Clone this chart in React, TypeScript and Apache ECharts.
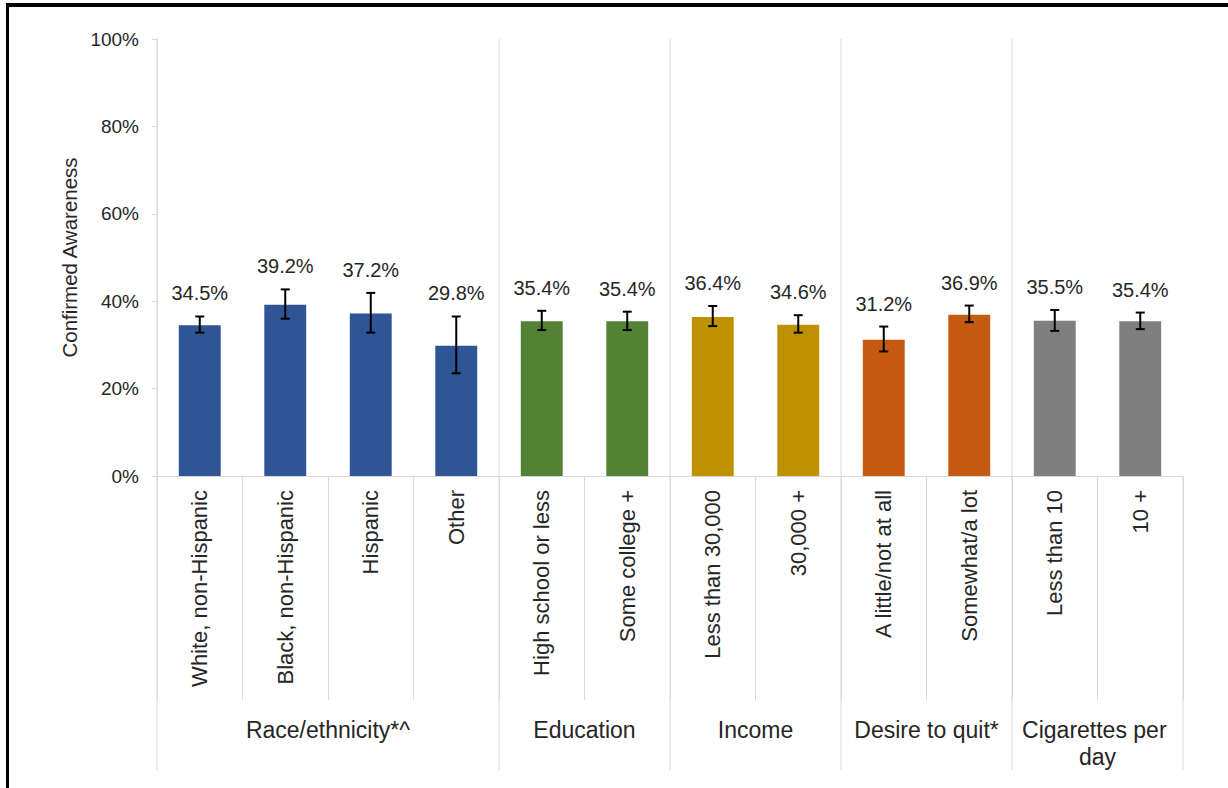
import React, { useEffect, useRef } from "react";
import * as echarts from "echarts";

const categories = [
  "White, non-Hispanic",
  "Black, non-Hispanic",
  "Hispanic",
  "Other",
  "High school or less",
  "Some college +",
  "Less than 30,000",
  "30,000 +",
  "A little/not at all",
  "Somewhat/a lot",
  "Less than 10",
  "10 +",
];
const values = [34.5, 39.2, 37.2, 29.8, 35.4, 35.4, 36.4, 34.6, 31.2, 36.9, 35.5, 35.4];
const lower = [32.8, 36.0, 32.8, 23.5, 33.4, 33.4, 34.3, 32.8, 28.5, 35.2, 33.2, 33.6];
const upper = [36.5, 42.7, 41.9, 36.5, 37.8, 37.6, 38.9, 36.8, 34.2, 39.0, 38.0, 37.4];

const groupNames = ["Race/ethnicity*^", "Education", "Income", "Desire to quit*", "Cigarettes per day"];
const groupStart = [0, 4, 6, 8, 10];
const groupEnd = [3, 5, 7, 9, 11];
const groupColors = ["#2F5597", "#548235", "#BF9000", "#C55A11", "#7F7F7F"];

const yTicks = [0, 20, 40, 60, 80, 100];

const FONT = '"Liberation Sans", Arial, sans-serif';
const TEXT = "#262626";
const GRID_LINE = "#d9d9d9";

function colorFor(i: number) {
  for (let g = 0; g < groupStart.length; g++) {
    if (i >= groupStart[g] && i <= groupEnd[g]) return groupColors[g];
  }
  return groupColors[0];
}

export default function App() {
  const ref = useRef<HTMLDivElement>(null);
  useEffect(() => {
    if (!ref.current) return;
    const chart = echarts.init(ref.current, null, { renderer: "svg" });
    const option: any = {
      animation: false,
      backgroundColor: "#ffffff",
      textStyle: { fontFamily: FONT },
      grid: { left: 157, right: 45, top: 39, bottom: 312, containLabel: false },
      xAxis: {
        type: "category",
        data: categories,
        axisLine: { show: true, lineStyle: { color: GRID_LINE, width: 1 } },
        axisTick: { show: true, interval: 0, length: 224, alignWithLabel: false, lineStyle: { color: GRID_LINE } },
        axisLabel: { interval: 0, rotate: 90, margin: 14, fontSize: 22, color: TEXT, fontFamily: FONT },
        splitLine: { show: false },
      },
      yAxis: {
        type: "value",
        min: yTicks[0],
        max: yTicks[yTicks.length - 1],
        interval: yTicks[1] - yTicks[0],
        name: "Confirmed Awareness",
        nameLocation: "middle",
        nameGap: 68,
        nameRotate: 90,
        nameTextStyle: { fontSize: 20.5, color: TEXT, fontFamily: FONT },
        axisLine: { show: true, lineStyle: { color: GRID_LINE } },
        axisTick: { show: true, length: 5, lineStyle: { color: GRID_LINE } },
        axisLabel: { formatter: "{value}%", fontSize: 19, color: TEXT, margin: 18, fontFamily: FONT },
        splitLine: { show: false },
      },
      series: [
        {
          type: "bar",
          barWidth: "49%",
          data: values.map((v, i) => ({ value: v, itemStyle: { color: colorFor(i) } })),
          z: 2,
        },
        {
          type: "custom",
          clip: false,
          z: 5,
          encode: { x: 0, y: [1, 2] },
          data: categories.map((_, i) => [i, lower[i], upper[i], values[i]]),
          renderItem: (params: any, api: any) => {
            const i = api.value(0);
            const top = api.coord([i, api.value(2)]);
            const bot = api.coord([i, api.value(1)]);
            const x = top[0];
            const cap = 4.5;
            const st = { stroke: "#000", lineWidth: 2 };
            return {
              type: "group",
              children: [
                { type: "line", shape: { x1: x, y1: top[1], x2: x, y2: bot[1] }, style: st },
                { type: "line", shape: { x1: x - cap, y1: top[1], x2: x + cap, y2: top[1] }, style: st },
                { type: "line", shape: { x1: x - cap, y1: bot[1], x2: x + cap, y2: bot[1] }, style: st },
                {
                  type: "text",
                  x: x,
                  y: top[1] - 23,
                  style: {
                    text: api.value(3).toFixed(1) + "%",
                    fontSize: 20,
                    fontFamily: FONT,
                    fill: TEXT,
                    align: "center",
                    verticalAlign: "middle",
                  },
                },
              ],
            };
          },
        },
        {
          type: "custom",
          clip: false,
          silent: true,
          z: 1,
          encode: { x: 0 },
          data: groupNames.map((_, g) => [groupStart[g], groupEnd[g]]),
          renderItem: (params: any, api: any) => {
            const g = params.dataIndex;
            const s = api.value(0);
            const e = api.value(1);
            const bw = api.size([1, 0])[0];
            const base = api.coord([s, 0]);
            const yTop = api.coord([s, 100])[1];
            const y0 = base[1];
            const left = base[0] - bw / 2;
            const right = api.coord([e, 0])[0] + bw / 2;
            const yBot = y0 + 294;
            const ls = { stroke: GRID_LINE, lineWidth: 1 };
            const children: any[] = [
              { type: "line", shape: { x1: left, y1: yTop, x2: left, y2: yBot }, style: ls },
            ];
            if (g === groupNames.length - 1) {
              children.push({ type: "line", shape: { x1: right, y1: y0, x2: right, y2: yBot }, style: ls });
            }
            children.push({
              type: "text",
              x: (left + right) / 2,
              y: y0 + 240,
              style: {
                text: groupNames[g],
                fontSize: 23,
                fontFamily: FONT,
                fill: TEXT,
                align: "center",
                verticalAlign: "top",
                lineHeight: 27,
                width: right - left - 10,
                overflow: "break",
              },
            });
            return { type: "group", children };
          },
        },
      ],
    };
    chart.setOption(option);
    return () => chart.dispose();
  }, []);
  return (
    <div style={{ position: "fixed", left: 0, top: 0, width: 1228, height: 788, background: "#fff" }}>
      <div ref={ref} style={{ position: "absolute", left: 0, top: 0, width: 1228, height: 788 }} />
      <div
        style={{
          position: "absolute",
          left: 6,
          top: 3,
          width: 1228,
          height: 800,
          borderTop: "4px solid #000",
          borderLeft: "3px solid #000",
          pointerEvents: "none",
          boxSizing: "border-box",
        }}
      />
    </div>
  );
}
